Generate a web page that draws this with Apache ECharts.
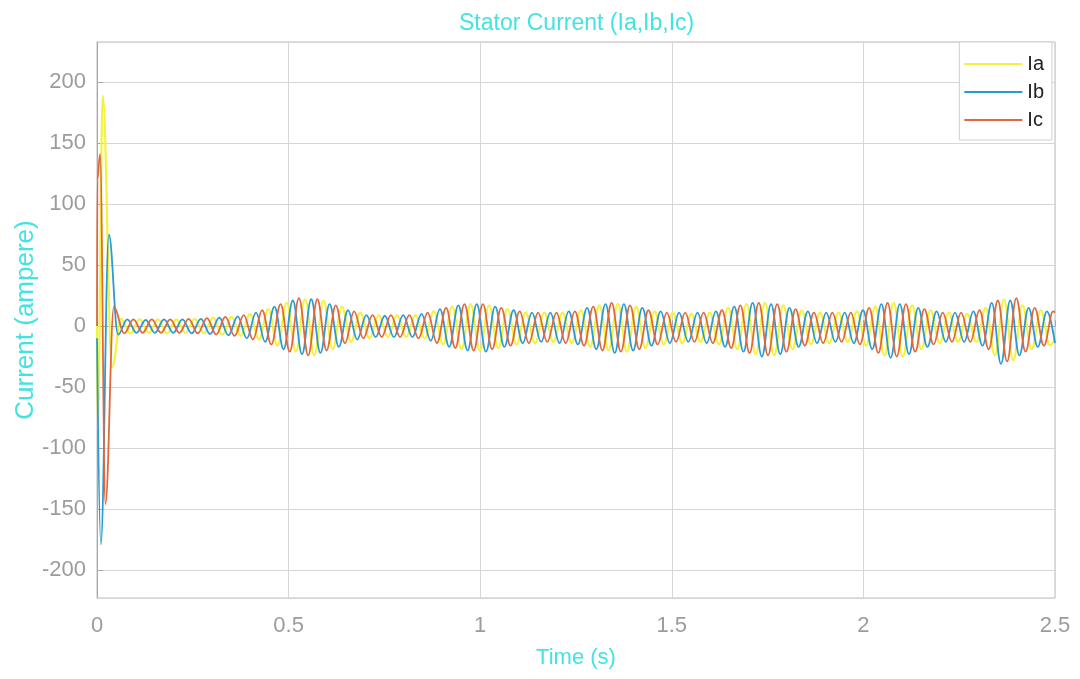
<!DOCTYPE html>
<html>
<head>
<meta charset="utf-8">
<script src="https://cdn.jsdelivr.net/npm/echarts@6/dist/echarts.min.js"></script>
<style>html,body{margin:0;padding:0;background:#fff}#c{width:1080px;height:679px}</style>
</head>
<body>
<div id="c"></div>
<script>
// Extremum points [time (s), current (A)]
var iaData = [[0,0],[0.002,-85],[0.015,189],[0.039,-34],
[0.063,6],[0.087,-6],[0.111,5.5],[0.135,-5.5],[0.159,5.5],[0.183,-6],[0.207,5.5],[0.231,-5.5],[0.255,6],[0.279,-6],
[0.303,7],[0.327,-7],[0.351,7.5],[0.375,-8],[0.399,10],[0.423,-11],[0.447,14],[0.471,-16],[0.495,19],[0.519,-21],
[0.543,22],[0.567,-24],[0.591,21],[0.615,-19],[0.639,16],[0.663,-13],[0.687,11],[0.711,-10],[0.735,9],[0.759,-9],
[0.783,9],[0.807,-9],[0.831,9],[0.855,-10],[0.879,12],[0.903,-15],[0.927,16],[0.951,-19],[0.975,18],[0.999,-20],
[1.023,17],[1.047,-18],[1.071,14],[1.095,-15],[1.119,11],[1.143,-14],[1.167,11],[1.191,-13],[1.215,11],[1.239,-14],
[1.263,13],[1.287,-17],[1.311,17],[1.335,-20],[1.359,18],[1.383,-21],[1.407,16],[1.431,-18],[1.455,12],[1.479,-15],
[1.503,11],[1.527,-14],[1.551,10],[1.575,-13],[1.599,11],[1.623,-15],[1.647,15],[1.671,-19],[1.695,18],[1.719,-23],
[1.743,19],[1.767,-24],[1.791,17],[1.815,-19],[1.839,13],[1.863,-15],[1.887,11],[1.911,-14],[1.935,11],[1.959,-13],
[1.983,12],[2.007,-16],[2.031,16],[2.055,-24],[2.079,19],[2.103,-25],[2.127,17],[2.151,-19],[2.175,13],[2.199,-14],
[2.223,11],[2.247,-13],[2.271,10],[2.295,-13],[2.319,15],[2.343,-24],[2.367,22],[2.391,-28],[2.415,17],[2.439,-19],
[2.463,13],[2.487,-16],[2.5,-10]];

var ibData = [[0,-10],[0.01,-179],[0.031,75],[0.055,-7],
[0.079,5.5],[0.103,-5.5],[0.127,5],[0.151,-5.5],[0.175,5.5],[0.199,-5.5],[0.223,5.5],[0.247,-6],[0.271,6],[0.295,-6.5],
[0.319,7],[0.343,-7.5],[0.367,8],[0.391,-10],[0.415,11],[0.439,-13],[0.463,16],[0.487,-19],[0.511,21],[0.535,-23],
[0.559,22],[0.583,-22],[0.607,18],[0.631,-17],[0.655,13],[0.679,-11],[0.703,9],[0.727,-9],[0.751,8.5],[0.775,-9],
[0.799,9],[0.823,-9],[0.847,10],[0.871,-12],[0.895,14],[0.919,-17],[0.943,17],[0.967,-20],[0.991,18],[1.015,-21],
[1.039,16],[1.063,-17],[1.087,13],[1.111,-14],[1.135,11],[1.159,-13],[1.183,11],[1.207,-14],[1.231,12],[1.255,-15],
[1.279,15],[1.303,-19],[1.327,18],[1.351,-22],[1.375,18],[1.399,-20],[1.423,15],[1.447,-16],[1.471,12],[1.495,-14],
[1.519,11],[1.543,-13],[1.567,11],[1.591,-14],[1.615,12],[1.639,-17],[1.663,16],[1.687,-21],[1.711,19],[1.735,-25],
[1.759,18],[1.783,-23],[1.807,15],[1.831,-17],[1.855,12],[1.879,-14],[1.903,11],[1.927,-13],[1.951,11],[1.975,-14],
[1.999,13],[2.023,-19],[2.047,18],[2.071,-26],[2.095,18],[2.119,-23],[2.143,15],[2.167,-17],[2.191,12],[2.215,-13],
[2.239,11],[2.263,-13],[2.287,12],[2.311,-16],[2.335,19],[2.359,-31],[2.383,21],[2.407,-24],[2.431,15],[2.455,-17],
[2.479,12],[2.5,-14]];

var icData = [[0,0],[0.001,120],[0.008,141],[0.022,-146],[0.044,16],
[0.071,-6],[0.095,5.5],[0.119,-5.5],[0.143,5.5],[0.167,-5.5],[0.191,5.5],[0.215,-5.5],[0.239,6],[0.263,-6],[0.287,6.5],
[0.311,-7],[0.335,7.5],[0.359,-8],[0.383,9],[0.407,-11],[0.431,13],[0.455,-15],[0.479,18],[0.503,-21],[0.527,23],
[0.551,-24],[0.575,22],[0.599,-20],[0.623,17],[0.647,-14],[0.671,12],[0.695,-10],[0.719,9],[0.743,-9],[0.767,9],
[0.791,-9],[0.815,9],[0.839,-10],[0.863,11],[0.887,-14],[0.911,15],[0.935,-18],[0.959,18],[0.983,-20],[1.007,18],
[1.031,-19],[1.055,15],[1.079,-16],[1.103,12],[1.127,-14],[1.151,11],[1.175,-13],[1.199,11],[1.223,-14],[1.247,12],
[1.271,-16],[1.295,16],[1.319,-20],[1.343,19],[1.367,-21],[1.391,17],[1.415,-19],[1.439,13],[1.463,-15],[1.487,11],
[1.511,-13],[1.535,11],[1.559,-13],[1.583,11],[1.607,-14],[1.631,13],[1.655,-18],[1.679,17],[1.703,-22],[1.727,19],
[1.751,-24],[1.775,18],[1.799,-21],[1.823,14],[1.847,-16],[1.871,11],[1.895,-14],[1.919,11],[1.943,-13],[1.967,11],
[1.991,-15],[2.015,15],[2.039,-22],[2.063,19],[2.087,-25],[2.111,18],[2.135,-21],[2.159,14],[2.183,-15],[2.207,11],
[2.231,-13],[2.255,11],[2.279,-13],[2.303,13],[2.327,-19],[2.351,21],[2.375,-29],[2.399,23],[2.423,-21],[2.447,15],
[2.471,-16],[2.495,12],[2.5,11]];

var seriesNames = ['Ia', 'Ib', 'Ic'];
var seriesColors = ['#f3f23c', '#2a9ad4', '#e2673a'];
var seriesWidths = [2.2, 1.8, 1.8];
var xTicks = [0, 0.5, 1, 1.5, 2, 2.5];
var yTicks = [-200, -150, -100, -50, 0, 50, 100, 150, 200];

var font = 'Liberation Sans, Arial, sans-serif';
var cyan = '#45e2e2';
var chart = echarts.init(document.getElementById('c'), null, {renderer: 'canvas'});
var allData = [iaData, ibData, icData];
chart.setOption({
  animation: false,
  backgroundColor: '#fff',
  title: {
    text: 'Stator Current (Ia,Ib,Ic)',
    left: 454, top: 7,
    textStyle: {color: cyan, fontFamily: font, fontSize: 23, fontWeight: 'normal'}
  },
  grid: {left: 97, right: 25, top: 42, bottom: 81, show: true, borderColor: '#bdbdbd', borderWidth: 1,
    backgroundColor: 'transparent', containLabel: false, outerBoundsMode: 'none'},
  legend: {
    data: seriesNames,
    orient: 'vertical',
    right: 28, top: 42,
    icon: 'rect', itemWidth: 58, itemHeight: 2, itemGap: 8,
    padding: [12, 8, 10, 5],
    backgroundColor: '#fff', borderColor: '#cfcfcf', borderWidth: 1,
    textStyle: {color: '#222', fontFamily: font, fontSize: 20, lineHeight: 20}
  },
  xAxis: {
    type: 'value', min: xTicks[0], max: xTicks[xTicks.length - 1], interval: 0.5,
    name: 'Time (s)', nameLocation: 'middle', nameGap: 49,
    nameTextStyle: {color: cyan, fontFamily: font, fontSize: 22},
    axisLine: {lineStyle: {color: '#a8a8a8'}},
    axisTick: {inside: true, length: 6, lineStyle: {color: '#a8a8a8'}},
    axisLabel: {color: '#9c9c9c', fontFamily: font, fontSize: 22, margin: 17,
      formatter: function (v) { return xTicks.indexOf(v) >= 0 ? String(v) : ''; }},
    splitLine: {show: true, lineStyle: {color: '#d6d6d6'}}
  },
  yAxis: {
    type: 'value', min: -223, max: 233, splitNumber: 9, minInterval: 50, maxInterval: 50,
    name: 'Current (ampere)', nameLocation: 'middle', nameGap: 58, nameRotate: 90, nameMoveOverlap: false,
    nameTextStyle: {color: cyan, fontFamily: font, fontSize: 26},
    axisLine: {show: true, lineStyle: {color: '#a8a8a8'}},
    axisTick: {inside: true, length: 6, lineStyle: {color: '#a8a8a8'}},
    axisLabel: {color: '#9c9c9c', fontFamily: font, fontSize: 22, margin: 11,
      showMinLabel: false, showMaxLabel: false,
      formatter: function (v) { return yTicks.indexOf(v) >= 0 ? String(v) : ''; }},
    splitLine: {show: true, lineStyle: {color: '#d6d6d6'}}
  },
  series: seriesNames.map(function (n, i) {
    return {
      name: n, type: 'line', data: allData[i],
      showSymbol: false, symbol: 'none',
      smooth: 0.38, smoothMonotone: 'x',
      lineStyle: {color: seriesColors[i], width: seriesWidths[i]},
      itemStyle: {color: seriesColors[i]},
      z: 2 + i
    };
  })
});
</script>
</body>
</html>
